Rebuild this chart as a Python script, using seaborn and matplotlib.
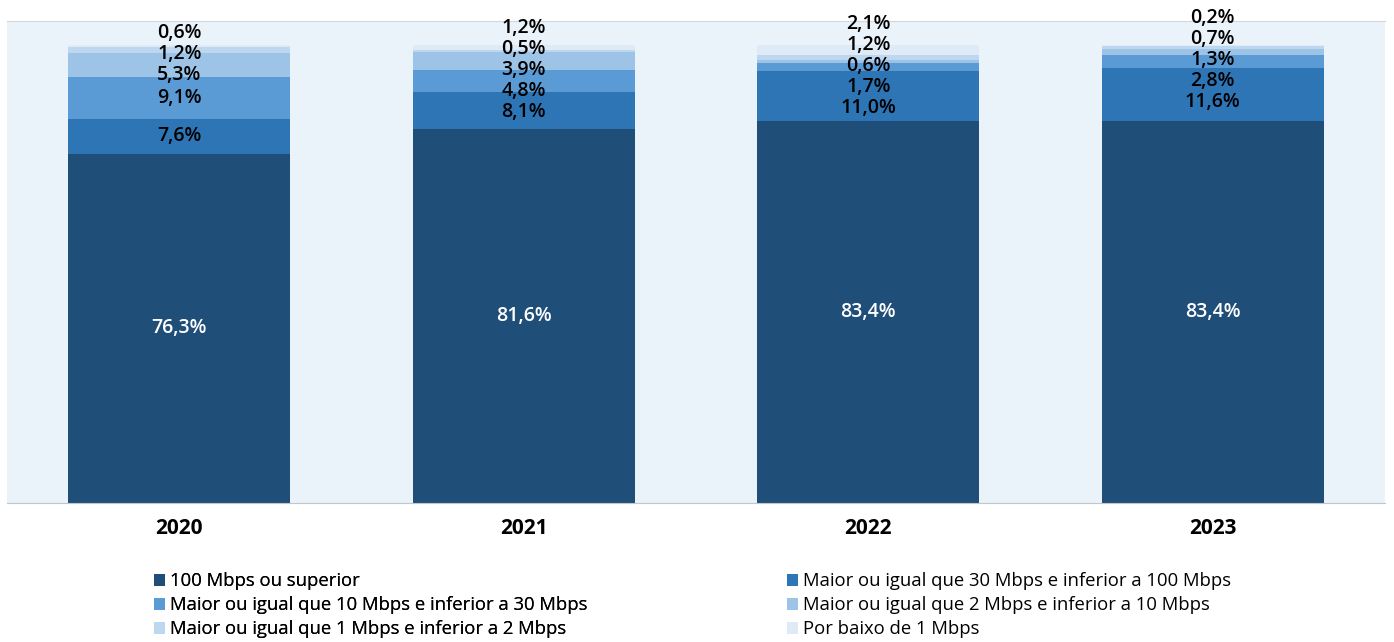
import numpy as np
import pandas as pd
import matplotlib
matplotlib.use("Agg")
import matplotlib.pyplot as plt
import seaborn as sns
from matplotlib.patches import Patch

# Data
years = ["2020", "2021", "2022", "2023"]
categories = [
    "100 Mbps ou superior",
    "Maior ou igual que 30 Mbps e inferior a 100 Mbps",
    "Maior ou igual que 10 Mbps e inferior a 30 Mbps",
    "Maior ou igual que 2 Mbps e inferior a 10 Mbps",
    "Maior ou igual que 1 Mbps e inferior a 2 Mbps",
    "Por baixo de 1 Mbps",
]
v_100 = [76.3, 81.6, 83.4, 83.4]
v_30_100 = [7.6, 8.1, 11.0, 11.6]
v_10_30 = [9.1, 4.8, 1.7, 2.8]
v_2_10 = [5.3, 3.9, 0.6, 1.3]
v_1_2 = [1.2, 0.5, 1.2, 0.7]
v_lt1 = [0.6, 1.2, 2.1, 0.2]

colors = ["#1F4E79", "#2E75B6", "#5B9BD5", "#9DC3E6", "#BDD7EE", "#DEEBF7"]

series = [v_100, v_30_100, v_10_30, v_2_10, v_1_2, v_lt1]
vals = np.array(series)
cum = np.cumsum(vals, axis=0)


def spread(centers, gap, cap):
    # merge overlapping labels into clusters centred on their mean
    clusters = []
    for c in centers:
        clusters.append([c, 1])  # sum, count
        while len(clusters) > 1:
            s, n = clusters[-1]
            ps, pn = clusters[-2]
            lo = s / n - (n - 1) / 2 * gap
            phi = ps / pn + (pn - 1) / 2 * gap
            if lo - phi < gap:
                clusters[-2] = [s + ps, n + pn]
                clusters.pop()
            else:
                break
    pos = []
    for s, n in clusters:
        m = s / n
        pos += [m + (k - (n - 1) / 2) * gap for k in range(n)]
    pos = np.array(pos)
    if pos[-1] > cap:
        pos[-1] = cap
        for k in range(len(pos) - 2, -1, -1):
            pos[k] = min(pos[k], pos[k + 1] - gap)
    return pos


plt.rcParams['font.family'] = ['Open Sans', 'DejaVu Sans']

fig = plt.figure(figsize=(13.94, 6.42), dpi=100)
ax = fig.add_axes([0.005, 0.2165, 0.9885, 0.7505])
ax.set_facecolor("#EAF2FA")

# stacked bars: draw cumulative totals from top down
for i in range(len(categories) - 1, -1, -1):
    df = pd.DataFrame({"year": years, "value": cum[i]})
    sns.barplot(data=df, x="year", y="value", color=colors[i], width=0.645,
                saturation=1, ax=ax, zorder=2)

# labels: centre of each segment, spread apart where they overlap
for j in range(len(years)):
    centers = cum[:, j] - vals[:, j] / 2
    ys = np.concatenate([[centers[0]], spread(centers[1:], 4.6, 106.8)])
    for i in range(len(categories)):
        txt = f"{vals[i, j]:.1f}%".replace(".", ",")
        ax.text(j, ys[i], txt, ha="center", va="center", fontsize=14,
                fontweight="semibold", color="white" if i == 0 else "black",
                clip_on=False, zorder=5)

ax.set_xlim(-0.5, 3.5)
ax.set_ylim(0, 105.2)
ax.set_xlabel("")
ax.set_ylabel("")
ax.set_yticks([])
ax.tick_params(axis="x", length=0, pad=11)
for lab in ax.get_xticklabels():
    lab.set_fontweight("bold")
    lab.set_fontsize(15)
for s in ["left", "right"]:
    ax.spines[s].set_visible(False)
ax.spines["top"].set_color("#D0D7DE")
ax.spines["bottom"].set_color("#BFC6CC")

handles = [Patch(facecolor=c, edgecolor="none") for c in colors]
leg_kw = dict(loc="upper left", frameon=False, fontsize=13.3, handlelength=0.6,
              handleheight=0.6, handletextpad=0.25, labelspacing=0.33, borderpad=0)
leg1 = fig.legend([handles[0], handles[2], handles[4]],
                  [categories[0], categories[2], categories[4]],
                  bbox_to_anchor=(145 / 1394, 1 - 563 / 642), **leg_kw)
leg2 = fig.legend([handles[1], handles[3], handles[5]],
                  [categories[1], categories[3], categories[5]],
                  bbox_to_anchor=(778 / 1394, 1 - 563 / 642), **leg_kw)
fig.add_artist(leg1)

fig.savefig("out.png", dpi=100)
